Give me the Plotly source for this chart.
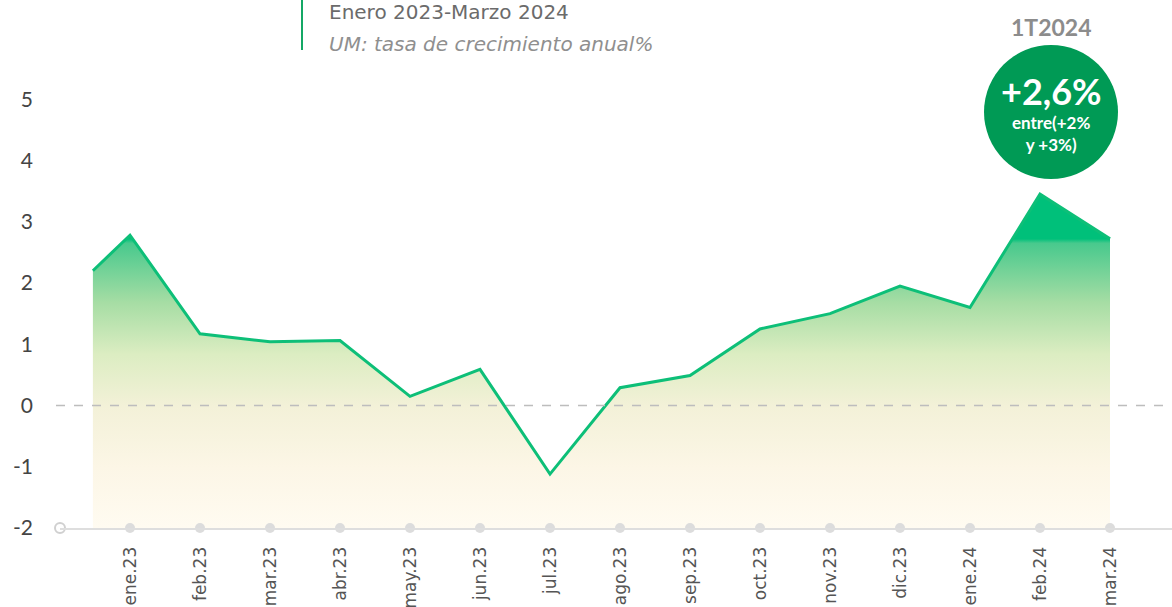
import plotly.graph_objects as go

# ---- data ----
months = ["ene.23", "feb.23", "mar.23", "abr.23", "may.23", "jun.23", "jul.23",
          "ago.23", "sep.23", "oct.23", "nov.23", "dic.23", "ene.24", "feb.24", "mar.24"]
values = [2.78, 1.17, 1.04, 1.06, 0.15, 0.59, -1.12, 0.29, 0.49, 1.25, 1.50, 1.95, 1.60, 3.45, 2.72]
lead_value = 2.20          # unlabeled starting point before ene.23
lead_offset = -0.53        # its position, in category units
y_ticks = [-2, -1, 0, 1, 2, 3, 4, 5]
y_ticktext = ["-2", "-1", "0", "1", "2", "3", "4", "5"]
header_title = "Enero 2023-Marzo 2024"
header_unit = "UM: tasa de crecimiento anual%"
badge_period = "1T2024"
badge_value = "+2,6%"
badge_range = "entre(+2%<br>y +3%)"

FONT = "Lato"
WIDE = "DejaVu Sans"
GREEN_LINE = "#0dbf78"
W, H = 1172, 607
L, R, T, B = 60, 0, 60, 79
ymin, ymax = -2, 5.64
PW = W - L - R
PH = H - T - B

idx = list(range(len(months)))
xs = [lead_offset] + idx
ys = [lead_value] + values


def px(xp):
    return (xp - L) / PW


def py(yp):
    return (T + PH - yp) / PH


fig = go.Figure()

# baseline for fill
fig.add_trace(go.Scatter(x=xs, y=[ymin] * len(xs), mode="lines",
                         line=dict(width=0, color="rgba(0,0,0,0)"),
                         hoverinfo="skip", showlegend=False))
# area with gradient
fig.add_trace(go.Scatter(
    x=xs, y=ys, mode="lines", fill="tonexty",
    line=dict(width=0, color="rgba(0,0,0,0)"),
    fillgradient=dict(type="vertical", start=ymin, stop=2.72,
                      colorscale=[[0.0, "#fffbf1"], [0.21, "#fcf6e6"], [0.42, "#f3f1d8"],
                                  [0.6, "#dcedc2"], [0.78, "#a6dda4"], [0.985, "#48c98d"],
                                  [1.0, "#00c07a"]]),
    hoverinfo="skip", showlegend=False))

# zero dashed line
fig.add_shape(type="line", xref="paper", yref="y", x0=px(56), x1=1, y0=0, y1=0,
              line=dict(color="#bdbdbd", width=1.5, dash="dash"), layer="above")

# main line
fig.add_trace(go.Scatter(x=xs, y=ys, mode="lines",
                         line=dict(color=GREEN_LINE, width=3),
                         showlegend=False, cliponaxis=False))

# axis tick dots
fig.add_trace(go.Scatter(x=idx, y=[ymin] * len(idx), mode="markers",
                         marker=dict(size=10, color="#dcdcdc"),
                         cliponaxis=False, showlegend=False, hoverinfo="skip"))
fig.add_trace(go.Scatter(x=[-1], y=[ymin], mode="markers",
                         marker=dict(size=10, color="white", line=dict(color="#d0d0d0", width=2)),
                         cliponaxis=False, showlegend=False, hoverinfo="skip"))

# header
fig.add_shape(type="line", xref="paper", yref="paper", x0=px(302), x1=px(302),
              y0=py(0), y1=py(50), line=dict(color="#14a865", width=2))
fig.add_annotation(xref="paper", yref="paper", x=px(327), y=py(12), text=header_title,
                   showarrow=False, xanchor="left", yanchor="middle",
                   font=dict(family=WIDE, size=20, color="#6b6b6b"))
fig.add_annotation(xref="paper", yref="paper", x=px(327), y=py(44), text="<i>" + header_unit + "</i>",
                   showarrow=False, xanchor="left", yanchor="middle",
                   font=dict(family=WIDE, size=20, color="#8f8f8f"))

# badge
cx, cy, r = 1051, 112, 67
fig.add_shape(type="circle", xref="paper", yref="paper",
              x0=px(cx - r), x1=px(cx + r), y0=py(cy + r), y1=py(cy - r),
              fillcolor="#009a55", line=dict(width=0))
fig.add_annotation(xref="paper", yref="paper", x=px(cx), y=py(27), text="<b>" + badge_period + "</b>",
                   showarrow=False, xanchor="center", yanchor="middle",
                   font=dict(family=FONT, size=23, color="#8c8c8c"))
fig.add_annotation(xref="paper", yref="paper", x=px(cx), y=py(91), text="<b>" + badge_value + "</b>",
                   showarrow=False, xanchor="center", yanchor="middle",
                   font=dict(family=FONT, size=36, color="white"))
fig.add_annotation(xref="paper", yref="paper", x=px(cx), y=py(133), text="<b>" + badge_range + "</b>",
                   showarrow=False, xanchor="center", yanchor="middle",
                   font=dict(family=FONT, size=17, color="white"))

fig.update_layout(
    width=W, height=H, margin=dict(l=L, r=R, t=T, b=B),
    paper_bgcolor="white", plot_bgcolor="white",
    font=dict(family=FONT),
    xaxis=dict(range=[-1, PW / 70 - 1], tickmode="array", tickvals=idx, ticktext=months,
               tickangle=-90, showgrid=False, zeroline=False, showline=True,
               linecolor="#dedede", linewidth=2, ticks="", ticklabelstandoff=10,
               tickfont=dict(family=WIDE, size=17, color="#555555"), automargin=False),
    yaxis=dict(range=[ymin, ymax], tickmode="array", tickvals=y_ticks, ticktext=y_ticktext,
               showgrid=False, zeroline=False, showline=False, ticks="",
               ticklabelstandoff=26, tickfont=dict(family=FONT, size=21, color="#444444"),
               automargin=False),
)

fig.write_html("out.html", config={"displayModeBar": False},
               post_script="document.body.style.margin='0';document.body.style.overflow='hidden';")
